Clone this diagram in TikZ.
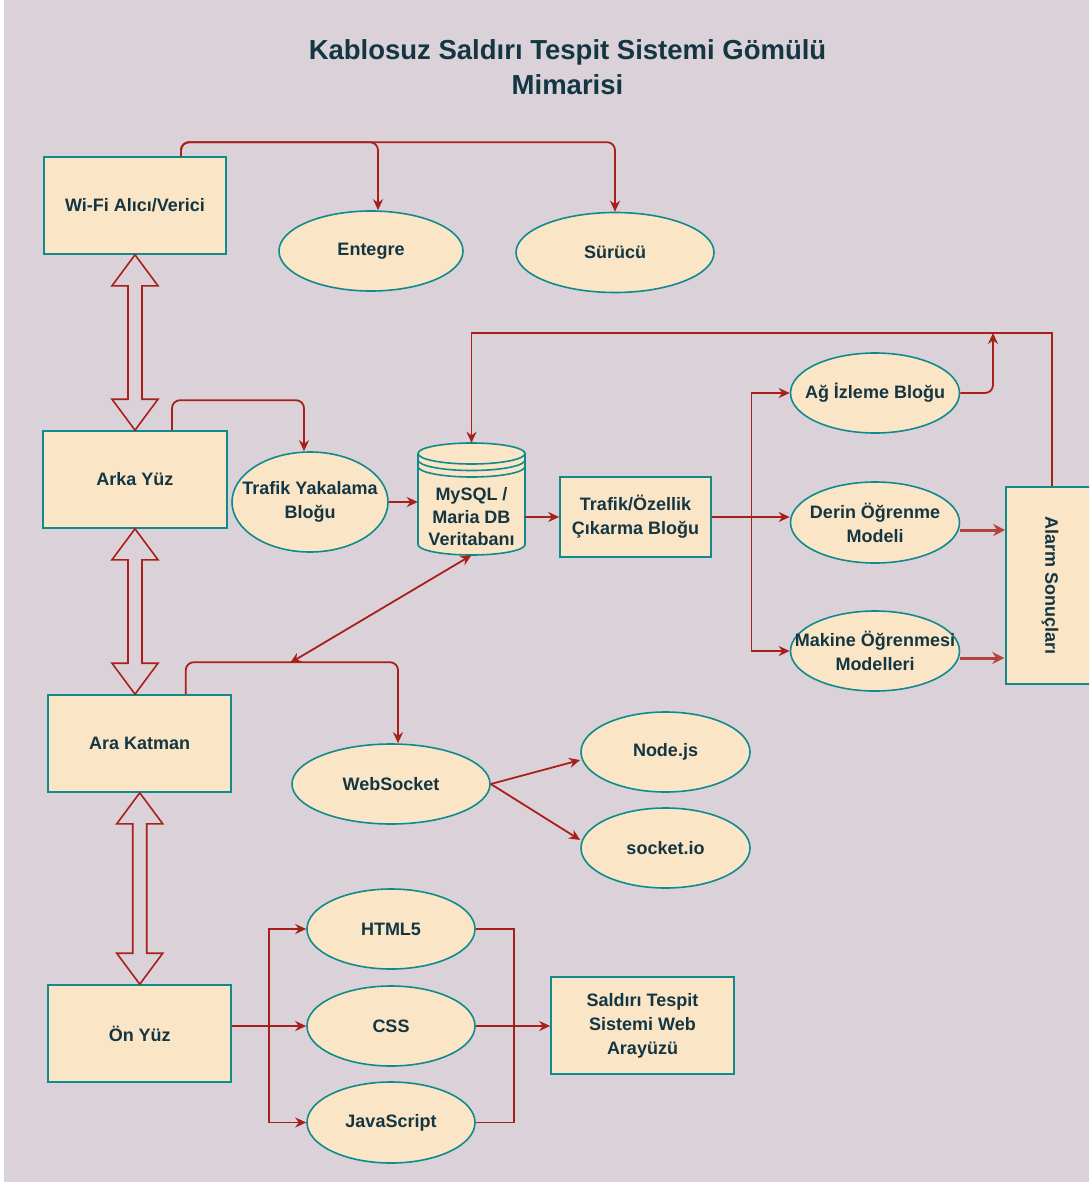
\documentclass[tikz,border=0pt]{standalone}
\usepackage{fontspec}
\setmainfont{Liberation Sans}
\usetikzlibrary{arrows.meta,shapes.geometric,calc}
\definecolor{bgc}{HTML}{DAD2D8}
\definecolor{boxfill}{HTML}{FAE5C7}
\definecolor{boxline}{HTML}{0F8B8D}
\definecolor{txt}{HTML}{143642}
\definecolor{wire}{HTML}{A8201A}

% hollow double block arrow from the top anchor #1 down to the level of #2
\newcommand\dblblock[2]{%
  \draw[blk] (#1) -- ++(23,-31) -- ++(-16,0) -- ($(#1 |- #2)+(7,31)$) -- ++(16,0)
    -- (#1 |- #2) -- ++(-23,31) -- ++(16,0) -- ($(#1)+(-7,-31)$) -- ++(-16,0) -- cycle;}

\begin{document}
\begin{tikzpicture}[x=1pt,y=1pt,
  lbl/.style={font=\bfseries\fontsize{18}{24}\selectfont, text=txt, align=center},
  blockbox/.style={lbl, rectangle, draw=boxline, fill=boxfill, line width=1.6pt, inner sep=0pt},
  % negative inner sep keeps the ellipse at its fixed size whatever the label width
  oval/.style={lbl, ellipse, draw=boxline, fill=boxfill, line width=1.6pt,
    inner xsep=-30pt, inner ysep=-12pt},
  sz/.style 2 args={minimum width=#1pt, minimum height=#2pt},
  tip/.tip={Stealth[length=11pt,width=10pt]},
  wireline/.style={draw=wire, line width=1.8pt},
  conn/.style={wireline, -tip},
  connboth/.style={wireline, tip-tip},
  connthick/.style={draw=wire!80!bgc, line width=3pt, -{Stealth[length=12pt,width=12pt]}},
  blk/.style={draw=wire, line width=1.6pt, line join=miter},
  elbow/.style={rounded corners=8pt}]

\useasboundingbox (0,0) rectangle (1089,-1182);
\clip (0,0) rectangle (1089,-1182);
\fill[bgc] (0,0) rectangle (1089,-1182);
\fill[white] (0,0) rectangle (4,-1182);

% title
\node[font=\bfseries\fontsize{27.5}{35}\selectfont, text=txt, align=center] (title)
  at (567.5,-67.5) {Kablosuz Saldırı Tespit Sistemi Gömülü\\Mimarisi};

% hardware layer
\node[blockbox, sz={182}{97}] (wifi) at (135,-205.5) {Wi-Fi Alıcı/Verici};
\node[oval, sz={184}{80}] (entegre) at (371,-251) {Entegre};
\node[oval, sz={198}{80}] (surucu) at (615,-252.5) {Sürücü};

% back end
\node[blockbox, sz={184}{97}] (arka) at (135,-479.5) {Arka Yüz};
\node[oval, sz={156}{100}] (trafik) at (310,-502) {Trafik Yakalama\\Bloğu};

% database cylinder
\node[rectangle, sz={107}{112}, inner sep=0pt] (db) at (471.5,-499) {};
\filldraw[fill=boxfill, draw=boxline, line width=1.6pt]
  (418,-453.5) -- (418,-544.5)
  arc[start angle=180, end angle=360, x radius=53.5pt, y radius=10.5pt]
  -- (525,-453.5)
  arc[start angle=0, end angle=180, x radius=53.5pt, y radius=10.5pt] -- cycle;
\foreach \yy in {-453.5,-460,-466.5}
  \draw[boxline, line width=1.6pt] (418,\yy)
    arc[start angle=180, end angle=360, x radius=53.5pt, y radius=10.5pt];
\node[lbl, font=\bfseries\fontsize{18}{22.5}\selectfont] (dblabel) at (471.5,-517)
  {MySQL /\\Maria DB\\Veritabanı};

\node[blockbox, sz={151}{80}] (feat) at (635.5,-517) {Trafik/Özellik\\Çıkarma Bloğu};
\node[oval, sz={169}{80}] (ag) at (875,-393) {Ağ İzleme Bloğu};
\node[oval, sz={169}{81}] (derin) at (875,-522.5) {Derin Öğrenme\\Modeli};
\node[oval, sz={169}{80}] (makine) at (875,-651) {Makine Öğrenmesi\\Modelleri};
\node[blockbox, sz={88}{197}] (alarm) at (1050,-585.5) {};
\node[lbl, rotate=-90] (alarmtxt) at (alarm.center) {Alarm Sonuçları};

% middle layer
\node[blockbox, sz={183}{97}] (ara) at (139.75,-743.5) {Ara Katman};
\node[oval, sz={198}{80}] (ws) at (391,-784) {WebSocket};
\node[oval, sz={169}{80}] (nodejs) at (665.5,-752) {Node.js};
\node[oval, sz={169}{80}] (sio) at (665.5,-848) {socket.io};

% front end
\node[blockbox, sz={183}{97}] (on) at (139.75,-1033.5) {Ön Yüz};
\node[oval, sz={168}{80}] (html) at (391,-929) {HTML5};
\node[oval, sz={168}{80}] (css) at (391,-1026) {CSS};
\node[oval, sz={168}{81}] (js) at (391,-1122.5) {JavaScript};
\node[blockbox, sz={183}{97}] (web) at (642.5,-1025.5) {Saldırı Tespit\\Sistemi Web\\Arayüzü};

% layer-to-layer block arrows
\dblblock{wifi.south}{arka.north}
\dblblock{arka.south}{ara.north}
\dblblock{ara.south}{on.north}

% hardware connectors
\draw[conn, elbow] ([xshift=46pt]wifi.north) -- ++(0,14) -| ([xshift=7pt]entegre.north);
\draw[conn, elbow] ([xshift=46pt]wifi.north) -- ++(0,14) -| (surucu.north);

% back-end connectors
\draw[conn, elbow] ([xshift=37pt]arka.north) -- ++(0,30) -| ([xshift=-6pt]trafik.north);
\draw[conn] (trafik.east) -- (db.west |- trafik.east);
\draw[conn] (db.east |- feat.west) -- (feat.west);
\coordinate (fork) at (751.5,-517);
\draw[conn] (feat.east) -- (feat.east -| derin.west);
\draw[conn] (fork) |- (ag.west);
\draw[conn] (fork) |- (makine.west);
\draw[connthick] ([yshift=-7.5pt]derin.east) -- ([yshift=-7.5pt]derin.east -| alarm.west);
\draw[connthick] ([yshift=-7pt]makine.east) -- ++(44,0);
\coordinate (agup) at (993,-333);
\draw[conn, elbow] (ag.east) -| (agup);
\draw[conn] ([xshift=2pt]alarm.north) |- (agup) -| (db.north);

% middle-layer connectors
\coordinate (ajunc) at (290,-663);
\draw[conn, elbow] ([xshift=46pt]ara.north) -- ++(0,32) -| ([xshift=7pt]ws.north);
\draw[connboth] (db.south) -- (ajunc);
\draw[conn] (ws.east) -- ([yshift=-8pt]nodejs.west);
\draw[conn] (ws.east) -- ([yshift=8pt]sio.west);

% front-end connectors
\coordinate (fork2) at (269,-1026);
\draw[conn] (css.west -| on.east) -- (css.west);
\draw[conn] (fork2) |- (html.west);
\draw[conn] (fork2) |- (js.west);
\draw[wireline] (html.east) -- ++(38,0) |- (js.east);
\draw[conn] (css.east) -- (web.west |- css.east);

\end{tikzpicture}
\end{document}
